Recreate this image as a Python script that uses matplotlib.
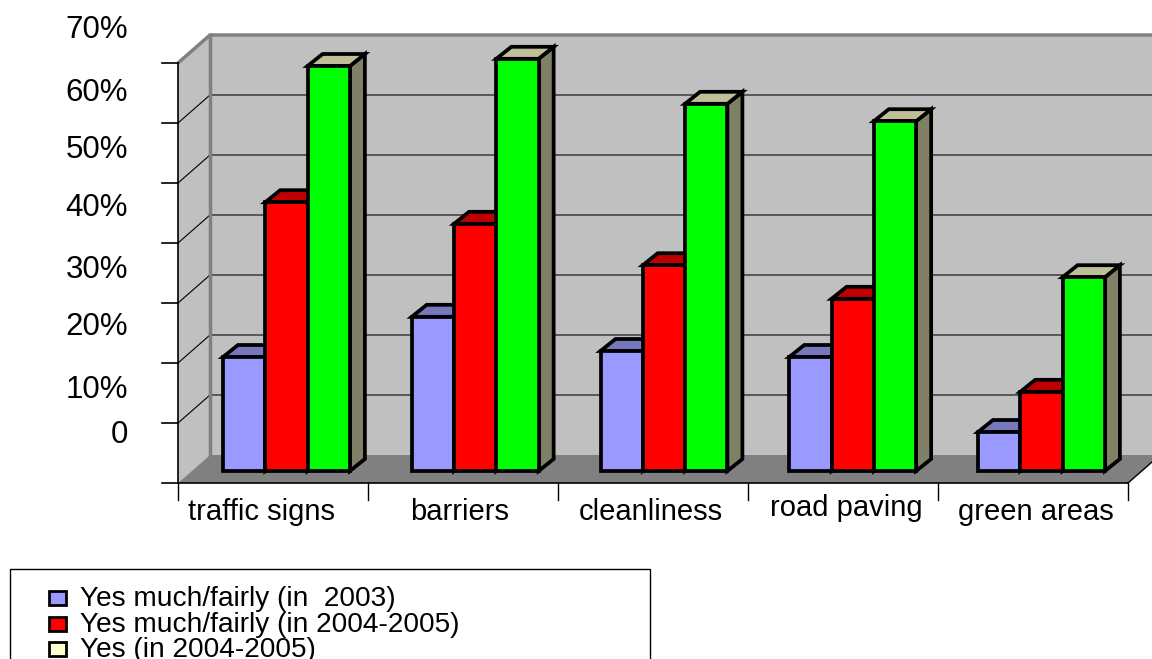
import matplotlib
matplotlib.use('Agg')
import matplotlib.pyplot as plt
from matplotlib.patches import Polygon, Rectangle

plt.rcParams['font.family'] = ['Liberation Sans', 'DejaVu Sans']

# data (percent)
categories = ['traffic signs', 'barriers', 'cleanliness', 'road paving', 'green areas']
much_2003 = [19.0, 25.7, 20.0, 19.0, 6.5]
much_2004_2005 = [44.8, 41.2, 34.3, 28.7, 13.2]
yes_2004_2005 = [67.5, 68.7, 61.2, 58.3, 32.3]
series_names = ['Yes much/fairly (in  2003)', 'Yes much/fairly (in 2004-2005)', 'Yes (in 2004-2005)']
y_ticks = [0, 10, 20, 30, 40, 50, 60, 70]
y_tick_labels = ['0', '10%', '20%', '30%', '40%', '50%', '60%', '70%']

series = [much_2003, much_2004_2005, yes_2004_2005]
front_colors = ['#9999ff', '#ff0000', '#00ff00']
top_colors = ['#7777bb', '#c00000', '#c0c098']
side_color = '#808066'
legend_colors = ['#9999ff', '#ff0000', '#ffffcc']

W, H = 1152, 659
PX_X, PX_Y = 190.0, 6.0     # pixels per category / per percent point
ZERO_PX = 471               # bar baseline row

fig = plt.figure(figsize=(W / 100, H / 100), dpi=100)
ax = fig.add_axes([0, 0, 1, 1])
ax.set_xlim(-273 / PX_X, (W - 273) / PX_X)
ax.set_ylim((ZERO_PX - H) / PX_Y, ZERO_PX / PX_Y)
ax.axis('off')

# 3d box geometry
x_left = -0.5
x_right = len(categories) - 0.5
front_off = -2.0
dx, dy = 32 / PX_X, 28 / PX_Y
top = y_ticks[-1]
bx = x_left + dx
bx_r = x_right + dx

# back wall, left wall, floor
ax.add_patch(Polygon([(bx, front_off + dy), (bx_r, front_off + dy), (bx_r, top + front_off + dy),
                      (bx, top + front_off + dy)], closed=True, fc='#c0c0c0', ec='none', zorder=1))
ax.add_patch(Polygon([(x_left, front_off), (bx, front_off + dy), (bx, top + front_off + dy),
                      (x_left, top + front_off)], closed=True, fc='#c0c0c0', ec='none', zorder=1))
ax.add_patch(Polygon([(x_left, front_off), (x_right, front_off), (bx_r, front_off + dy),
                      (bx, front_off + dy)], closed=True, fc='#808080', ec='none', zorder=1))

# gridlines
for t in y_ticks[1:-1]:
    ax.plot([bx, bx_r], [t + front_off + dy] * 2, color='#505050', lw=1.3, zorder=2)
    ax.plot([x_left, bx], [t + front_off, t + front_off + dy], color='black', lw=0.8, zorder=2)

# wall edges
ax.plot([x_left, bx, bx_r], [top + front_off, top + front_off + dy, top + front_off + dy],
        color='#808080', lw=2.5, zorder=2, solid_capstyle='butt')
ax.plot([bx, bx], [front_off + dy, top + front_off + dy], color='#808080', lw=2.5, zorder=2)

# value axis
ax.plot([x_left, x_left], [front_off, top + front_off], color='black', lw=1.2, zorder=3)
tick_len = 16 / PX_X
for t in y_ticks:
    ax.plot([x_left - tick_len, x_left], [t + front_off] * 2, color='black', lw=1.2, zorder=3)

label_px = [435, 390, 327, 270, 208, 150, 93, 30]
for lab, py in zip(y_tick_labels, label_px):
    ax.text((128 - 273) / PX_X, (ZERO_PX - py) / PX_Y, lab, ha='right', va='center', fontsize=22.5)

# category axis
ax.plot([x_left, x_right], [front_off] * 2, color='black', lw=1.2, zorder=3)
ax.plot([x_right, x_right + dx * 0.75], [front_off, front_off + dy * 0.75], color='black', lw=1.0, zorder=3)
for k in range(len(categories) + 1):
    xk = x_left + k
    ax.plot([xk, xk], [front_off, front_off - 17 / PX_Y], color='black', lw=1.0, zorder=3)
cat_label_px = [(261, 512), (460, 512), (651, 512), (846, 508), (1036, 512)]
for cat, (px, py) in zip(categories, cat_label_px):
    ax.text((px - 273) / PX_X, (ZERO_PX - py) / PX_Y, cat, ha='center', va='center', fontsize=21)

# bars
bw = 42.3 / PX_X
bdx, bdy = 15 / PX_X, 12 / PX_Y
group0 = (223 - 273) / PX_X
step = 188.75 / PX_X
z = 5
for i in range(len(categories)):
    for j, vals in enumerate(series):
        left = group0 + i * step + j * bw
        h = vals[i]
        ax.add_patch(Polygon([(left + bw, 0), (left + bw + bdx, bdy), (left + bw + bdx, h + bdy), (left + bw, h)],
                             closed=True, fc=side_color, ec='black', lw=2.7, joinstyle='miter', zorder=z))
        ax.add_patch(Polygon([(left, h), (left + bw, h), (left + bw + bdx, h + bdy), (left + bdx, h + bdy)],
                             closed=True, fc=top_colors[j], ec='black', lw=2.7, joinstyle='miter', zorder=z))
        ax.bar(left, h, width=bw, align='edge', color=front_colors[j], edgecolor='black',
               linewidth=2.7, zorder=z + 1)
        z += 2

# legend drawn in pixel space
lax = fig.add_axes([0, 0, 1, 1], zorder=10)
lax.set_xlim(0, W)
lax.set_ylim(H, 0)
lax.axis('off')
lax.patch.set_alpha(0)
lax.add_patch(Rectangle((10, 569), 640, 120, fc='white', ec='black', lw=1.0))
for k, name in enumerate(series_names):
    lax.add_patch(Rectangle((49, 591 + 25.5 * k), 17, 14, fc=legend_colors[k], ec='black', lw=2.0))
    lax.text(80, 606 + 25.5 * k, name, ha='left', va='baseline', fontsize=20.2)

fig.savefig('out.png', dpi=100)
